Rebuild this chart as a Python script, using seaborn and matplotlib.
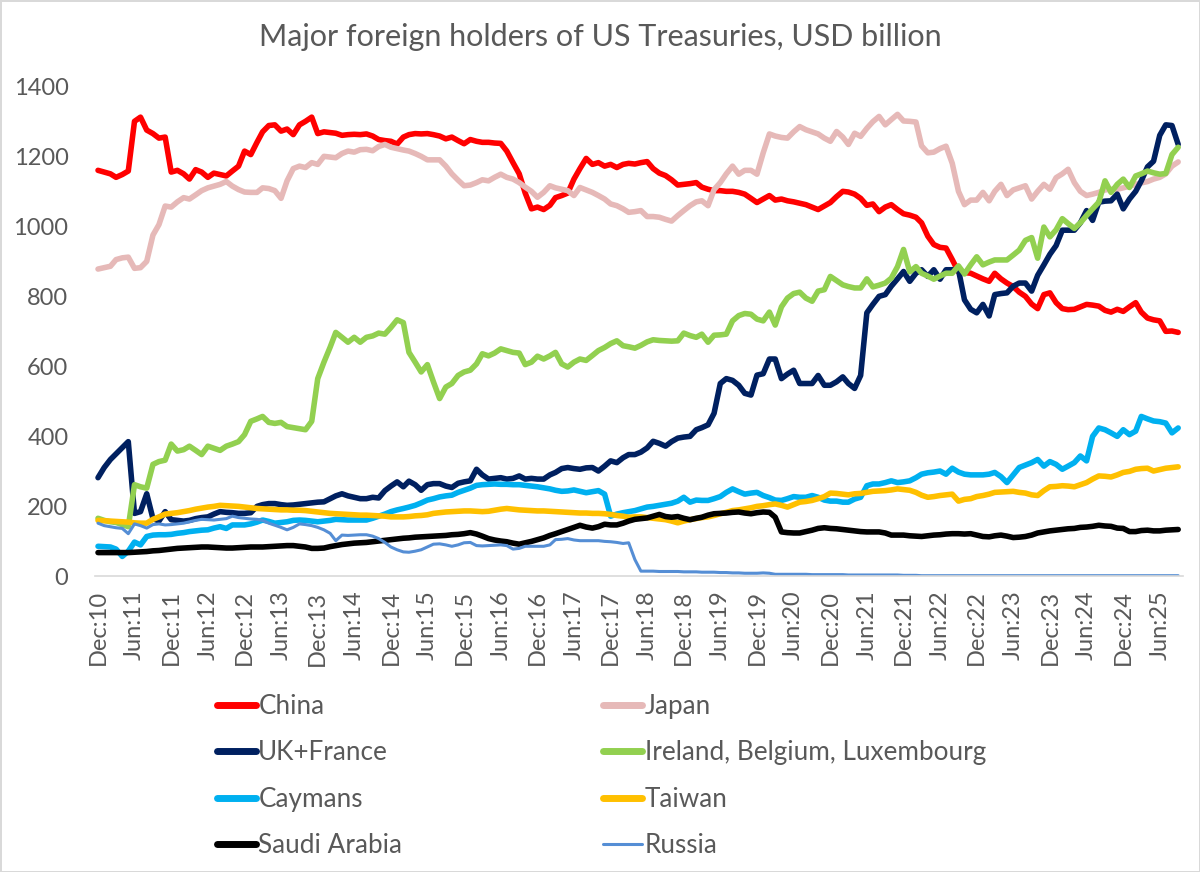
import pandas as pd
import seaborn as sns
import matplotlib.pyplot as plt
from matplotlib.lines import Line2D

# Monthly holdings, Dec 2010 .. Sep 2025 (USD bn)
months = pd.date_range("2010-12-01", "2025-09-01", freq="MS")

china = [
    1160,
    1155, 1150, 1140, 1148, 1158, 1300, 1312, 1275, 1265, 1252, 1255, 1155,
    1160, 1150, 1135, 1162, 1155, 1140, 1152, 1148, 1144, 1158, 1172, 1215,
    1205, 1240, 1270, 1288, 1290, 1272, 1278, 1262, 1290, 1300, 1312, 1265,
    1270, 1268, 1266, 1260, 1262, 1263, 1262, 1264, 1258, 1248, 1245, 1243,
    1235, 1255, 1262, 1265, 1264, 1265, 1262, 1258, 1250, 1255, 1245, 1236,
    1248, 1243, 1240, 1240, 1238, 1237, 1215, 1182, 1150, 1095, 1050, 1055,
    1048, 1060, 1082, 1088, 1095, 1135, 1165, 1194, 1177, 1182, 1172, 1177,
    1168, 1177, 1180, 1178, 1182, 1185, 1165, 1152, 1145, 1133, 1118, 1120,
    1122, 1125, 1112, 1106, 1102, 1102, 1100, 1100, 1097, 1092, 1080, 1068,
    1078, 1088, 1075, 1078, 1073, 1070, 1066, 1062, 1055, 1048, 1058, 1068,
    1085, 1100, 1098, 1092, 1080, 1060, 1064, 1042, 1055, 1062, 1048, 1036,
    1032, 1026, 1010, 972, 948, 940, 938, 905, 870, 868, 866, 858,
    850, 843, 866, 850, 838, 828, 812, 800, 778, 765, 805, 810,
    782, 765, 762, 763, 770, 777, 775, 772, 760, 755, 763, 757,
    770, 782, 755, 738, 733, 730, 700, 701, 697,
]
japan = [
    878,
    882, 886, 905, 910, 912, 880, 882, 900, 975, 1005, 1058, 1055,
    1070, 1082, 1078, 1090, 1102, 1110, 1115, 1120, 1128, 1115, 1105, 1098,
    1097, 1097, 1110, 1108, 1102, 1080, 1130, 1165, 1172, 1168, 1182, 1177,
    1200, 1198, 1196, 1208, 1215, 1212, 1219, 1220, 1216, 1228, 1234, 1226,
    1222, 1218, 1215, 1208, 1200, 1190, 1190, 1190, 1172, 1150, 1132, 1116,
    1118, 1125, 1133, 1130, 1140, 1149, 1140, 1135, 1125, 1112, 1100, 1083,
    1097, 1116, 1110, 1106, 1102, 1088, 1111, 1104, 1097, 1088, 1078, 1064,
    1059, 1050, 1040, 1042, 1045, 1028, 1028, 1026, 1020, 1015, 1031, 1045,
    1059, 1070, 1073, 1059, 1105, 1125, 1150, 1172, 1149, 1160, 1160, 1149,
    1210, 1264, 1258, 1254, 1252, 1270, 1285, 1276, 1270, 1264, 1252, 1243,
    1271, 1255, 1234, 1266, 1257, 1280, 1299, 1314, 1290, 1305, 1320, 1301,
    1300, 1298, 1230, 1210, 1212, 1222, 1229, 1180, 1100, 1062, 1075, 1075,
    1097, 1073, 1100, 1120, 1088, 1104, 1110, 1116, 1078, 1100, 1120, 1106,
    1139, 1150, 1163, 1125, 1100, 1088, 1092, 1097, 1104, 1106, 1106, 1110,
    1115, 1120, 1124, 1128, 1135, 1140, 1150, 1172, 1184,
]
uk_france = [
    282,
    311, 334, 350, 368, 385, 180, 185, 236, 165, 158, 185, 162,
    160, 158, 160, 165, 168, 170, 178, 185, 183, 182, 180, 180,
    182, 200, 205, 208, 208, 205, 203, 204, 206, 208, 210, 212,
    213, 222, 230, 236, 230, 226, 222, 222, 226, 224, 245, 258,
    270, 256, 272, 262, 246, 262, 265, 265, 258, 254, 266, 270,
    273, 306, 290, 278, 280, 282, 278, 280, 287, 278, 280, 278,
    278, 290, 297, 308, 311, 308, 306, 310, 311, 301, 315, 330,
    325, 339, 348, 348, 355, 367, 386, 380, 372, 385, 395, 398,
    400, 419, 425, 433, 466, 551, 565, 560, 546, 523, 518, 575,
    579, 621, 621, 565, 578, 589, 551, 551, 551, 574, 546, 546,
    556, 570, 551, 537, 574, 753, 777, 800, 805, 829, 850, 871,
    843, 866, 876, 857, 876, 849, 876, 876, 876, 790, 763, 753,
    777, 744, 805, 808, 810, 829, 838, 838, 815, 860, 890, 920,
    945, 989, 989, 989, 1010, 1045, 1017, 1069, 1072, 1073, 1092, 1050,
    1078, 1100, 1130, 1170, 1186, 1260, 1290, 1288, 1234,
]
ireland_bel_lux = [
    166,
    160, 156, 154, 148, 142, 262, 256, 252, 320, 328, 332, 378,
    358, 362, 372, 360, 348, 372, 366, 360, 372, 378, 385, 405,
    443, 450, 457, 440, 437, 440, 428, 425, 422, 419, 443, 565,
    612, 655, 697, 683, 669, 683, 669, 683, 687, 695, 692, 711,
    733, 725, 640, 612, 584, 605, 556, 508, 541, 551, 574, 584,
    589, 607, 636, 630, 638, 650, 645, 640, 638, 605, 612, 629,
    621, 630, 640, 607, 598, 612, 621, 617, 631, 645, 654, 665,
    673, 659, 656, 652, 660, 670, 676, 674, 673, 672, 673, 695,
    688, 683, 692, 669, 689, 690, 692, 730, 745, 751, 749, 735,
    730, 755, 718, 770, 795, 808, 812, 795, 786, 815, 819, 857,
    845, 833, 828, 824, 824, 850, 827, 832, 838, 852, 885, 934,
    870, 885, 866, 858, 849, 858, 866, 866, 887, 864, 890, 913,
    890, 898, 904, 904, 904, 918, 932, 960, 968, 909, 998, 970,
    990, 1022, 1008, 994, 1010, 1031, 1050, 1069, 1130, 1097, 1120, 1135,
    1111, 1144, 1150, 1158, 1153, 1149, 1151, 1205, 1226,
]
caymans = [
    86,
    85, 84, 78, 57, 72, 98, 90, 114, 118, 119, 119, 120,
    123, 125, 128, 130, 132, 133, 138, 142, 137, 147, 147, 147,
    150, 155, 161, 157, 152, 154, 156, 160, 161, 160, 158, 156,
    158, 160, 163, 162, 161, 161, 161, 161, 166, 172, 178, 185,
    190, 194, 198, 203, 210, 218, 222, 227, 230, 232, 240, 246,
    252, 260, 262, 263, 264, 263, 263, 262, 262, 260, 258, 256,
    253, 250, 246, 243, 244, 247, 243, 239, 242, 245, 235, 172,
    178, 182, 185, 188, 193, 198, 200, 203, 206, 209, 215, 226,
    212, 218, 217, 217, 222, 228, 240, 250, 242, 235, 238, 240,
    231, 225, 218, 217, 222, 228, 226, 226, 231, 226, 218, 215,
    215, 212, 212, 221, 226, 259, 264, 264, 268, 273, 268, 270,
    273, 282, 292, 296, 298, 301, 292, 309, 298, 292, 290, 290,
    290, 292, 297, 285, 268, 290, 311, 318, 325, 334, 315, 328,
    320, 306, 315, 325, 344, 330, 400, 424, 419, 410, 400, 419,
    405, 415, 457, 450, 444, 442, 438, 410, 424,
]
taiwan = [
    160,
    159, 158, 157, 156, 155, 153, 152, 152, 163, 170, 178, 180,
    182, 185, 188, 192, 195, 198, 200, 203, 202, 201, 200, 198,
    196, 194, 193, 192, 191, 190, 190, 189, 189, 188, 186, 184,
    182, 180, 179, 178, 177, 176, 175, 175, 174, 173, 172, 170,
    170, 170, 171, 173, 174, 176, 180, 182, 184, 185, 186, 187,
    187, 186, 185, 186, 189, 192, 194, 192, 190, 189, 188, 187,
    187, 186, 185, 184, 183, 182, 181, 181, 180, 180, 179, 177,
    174, 172, 169, 170, 170, 168, 166, 164, 162, 158, 153, 158,
    162, 165, 168, 170, 174, 179, 183, 188, 190, 193, 196, 200,
    202, 205, 207, 203, 198, 205, 212, 214, 217, 222, 228, 238,
    237, 235, 233, 236, 237, 240, 243, 244, 245, 247, 250, 248,
    246, 240, 232, 226, 228, 231, 233, 235, 215, 220, 222, 228,
    231, 235, 240, 241, 242, 243, 240, 238, 233, 231, 245, 256,
    257, 259, 258, 256, 262, 268, 278, 287, 286, 284, 290, 297,
    300, 306, 308, 309, 301, 305, 309, 311, 313,
]
saudi_arabia = [
    68,
    68, 68, 68, 68, 68, 69, 70, 71, 73, 74, 76, 78,
    80, 81, 82, 83, 84, 84, 83, 82, 81, 81, 82, 83,
    84, 84, 84, 85, 86, 87, 88, 88, 86, 84, 80, 80,
    81, 85, 88, 91, 93, 95, 96, 97, 99, 101, 103, 105,
    107, 109, 110, 112, 113, 114, 115, 116, 117, 119, 120, 122,
    125, 121, 115, 108, 104, 101, 99, 95, 92, 96, 100, 105,
    110, 117, 122, 128, 134, 140, 146, 141, 138, 142, 149, 147,
    147, 152, 158, 163, 165, 167, 172, 177, 171, 169, 171, 166,
    162, 166, 169, 175, 179, 180, 181, 183, 184, 181, 179, 182,
    184, 183, 169, 127, 125, 124, 124, 128, 132, 137, 139, 137,
    136, 134, 132, 130, 128, 127, 127, 127, 124, 118, 118, 118,
    116, 115, 114, 116, 118, 119, 121, 122, 122, 121, 122, 118,
    114, 113, 116, 118, 115, 111, 112, 114, 118, 124, 127, 130,
    132, 134, 136, 137, 140, 141, 143, 146, 144, 143, 138, 137,
    128, 128, 131, 132, 130, 130, 132, 133, 134,
]
russia = [
    152,
    145, 142, 139, 137, 122, 150, 145, 138, 148, 150, 147, 148,
    150, 152, 156, 160, 163, 162, 161, 163, 165, 172, 168, 166,
    164, 163, 160, 152, 146, 140, 133, 140, 150, 148, 145, 140,
    133, 123, 102, 118, 117, 118, 119, 119, 115, 108, 97, 84,
    76, 70, 69, 72, 76, 84, 92, 93, 90, 86, 90, 96,
    97, 88, 87, 88, 89, 90, 88, 78, 80, 86, 86, 86,
    86, 90, 105, 106, 108, 104, 102, 102, 102, 102, 100, 99,
    97, 94, 96, 48, 15, 15, 15, 14, 14, 14, 14, 13,
    13, 13, 12, 12, 12, 11, 11, 10, 10, 9, 9, 9,
    10, 9, 6, 6, 6, 6, 6, 6, 5, 5, 5, 5,
    5, 5, 4, 4, 4, 4, 4, 4, 4, 4, 4, 3,
    3, 3, 2, 2, 2, 2, 2, 2, 2, 2, 2, 2,
    2, 2, 2, 2, 2, 2, 2, 2, 2, 2, 2, 2,
    2, 2, 2, 2, 2, 2, 2, 2, 2, 2, 2, 2,
    2, 2, 2, 2, 2, 2, 2, 2, 2,
]

holders = ["China", "Japan", "UK+France", "Ireland, Belgium, Luxembourg",
           "Caymans", "Taiwan", "Saudi Arabia", "Russia"]
colors = {
    "China": "#FF0000",
    "Japan": "#E6B9B8",
    "UK+France": "#002060",
    "Ireland, Belgium, Luxembourg": "#92D050",
    "Caymans": "#00B0F0",
    "Taiwan": "#FFC000",
    "Saudi Arabia": "#000000",
    "Russia": "#558ED5",
}

df = pd.DataFrame({
    "date": months,
    "China": china,
    "Japan": japan,
    "UK+France": uk_france,
    "Ireland, Belgium, Luxembourg": ireland_bel_lux,
    "Caymans": caymans,
    "Taiwan": taiwan,
    "Saudi Arabia": saudi_arabia,
    "Russia": russia,
})
long_df = df.melt(id_vars="date", var_name="holder", value_name="usd_bn")

sns.set_theme(style="white")
plt.rcParams["font.family"] = ["Lato", "DejaVu Sans"]
grey = "#595959"

fig, ax = plt.subplots(figsize=(12, 8.72), dpi=100)
fig.subplots_adjust(left=0.079, right=0.986, top=0.901, bottom=0.339)

sns.lineplot(data=long_df, x="date", y="usd_bn", hue="holder", hue_order=holders,
             palette=colors, linewidth=4.0, legend=False, ax=ax)
# Russia is drawn with a thinner line in the original
ax.lines[holders.index("Russia")].set_linewidth(2.2)

ax.set_ylim(0, 1400)
ax.set_yticks(range(0, 1401, 200))
ax.set_xlim(months[0] - pd.Timedelta(days=16), months[-1] + pd.Timedelta(days=25))
tick_months = months[::6]
ax.set_xticks(tick_months)
ax.set_xticklabels([f"{d:%b}:{d:%y}" for d in tick_months], rotation=90)
ax.tick_params(axis="both", length=0, labelsize=17, labelcolor=grey)
ax.tick_params(axis="y", pad=19)
ax.tick_params(axis="x", pad=10)
ax.set_xlabel("")
ax.set_ylabel("")

sns.despine(ax=ax, left=True)
ax.spines["bottom"].set_color("#D9D9D9")
ax.spines["bottom"].set_linewidth(1.2)

fig.text(0.5, 1 - 37 / 872, "Major foreign holders of US Treasuries, USD billion",
         ha="center", va="center", fontsize=22, color=grey)

# legend: two columns, row-wise order like the original
col_order = ["China", "UK+France", "Caymans", "Saudi Arabia",
             "Japan", "Ireland, Belgium, Luxembourg", "Taiwan", "Russia"]
handles = [Line2D([0], [0], color=colors[h], lw=2.2 if h == "Russia" else 5,
                  solid_capstyle="round") for h in col_order]
fig.legend(handles, col_order, loc="upper left", bbox_to_anchor=(217 / 1200, 1 - 694 / 872),
           ncol=2, frameon=False, fontsize=18.8, labelcolor=grey, handlelength=1.5,
           handletextpad=0.08, columnspacing=7.7, labelspacing=0.82, borderpad=0,
           borderaxespad=0)

fig.patch.set_edgecolor("#D9D9D9")
fig.patch.set_linewidth(2)
fig.savefig("out.png", dpi=100, facecolor="white", edgecolor=fig.get_edgecolor())
